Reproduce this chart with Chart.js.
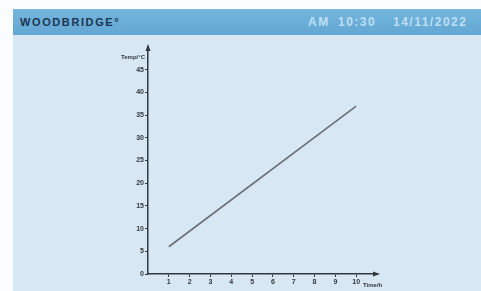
<!DOCTYPE html>
<html>
<head>
<meta charset="utf-8">
<script src="https://cdn.jsdelivr.net/npm/chart.js@4"></script>
<style>
  html, body { margin: 0; padding: 0; background: #fbfcfd; }
  #wrap { position: relative; width: 481px; height: 291px; overflow: hidden; }
  #panel { position: absolute; left: 13px; top: 35px; width: 468px; height: 256px; background: #d7e7f3; }
  #header { position: absolute; left: 13px; top: 9px; width: 468px; height: 26px;
    background: linear-gradient(#74b5dc, #62a7d3); }
  #brand { position: absolute; left: 7px; top: 7px; font: bold 11px "Liberation Sans", Arial, sans-serif;
    color: #1c3550; letter-spacing: 1.6px; }
  .stamp { position: absolute; top: 6px; font: bold 12px "Liberation Sans", Arial, sans-serif;
    color: #bfdff3; letter-spacing: 1.5px; }
  #chart { position: absolute; left: 0; top: 0; }
</style>
</head>
<body>
<div id="wrap">
  <div id="header">
    <div id="brand">WOODBRIDGE°</div>
    <div class="stamp" style="left:295px">AM</div>
    <div class="stamp" style="left:325px">10:30</div>
    <div class="stamp" style="left:380px">14/11/2022</div>
  </div>
  <div id="panel"></div>
  <canvas id="chart" width="481" height="291"></canvas>
</div>
<script>
// line: temperature vs time
const hours = [1, 10];
const temps = [6, 37];
const xTicks = [1, 2, 3, 4, 5, 6, 7, 8, 9, 10];
const yTicks = [0, 5, 10, 15, 20, 25, 30, 35, 40, 45];

const axisColor = "#33383e";
const tickFont = { family: "Liberation Sans", size: 7, weight: "bold" };

const arrowsAndTitles = {
  id: "arrowsAndTitles",
  afterDraw(chart) {
    const ctx = chart.ctx;
    const a = chart.chartArea;
    ctx.save();
    ctx.fillStyle = axisColor;
    // y arrow
    ctx.beginPath();
    ctx.moveTo(a.left, a.top - 3);
    ctx.lineTo(a.left - 2.5, a.top + 4);
    ctx.lineTo(a.left + 2.5, a.top + 4);
    ctx.fill();
    // x arrow
    ctx.beginPath();
    ctx.moveTo(a.right + 3, a.bottom);
    ctx.lineTo(a.right - 4, a.bottom - 2.5);
    ctx.lineTo(a.right - 4, a.bottom + 2.5);
    ctx.fill();
    ctx.font = "bold 6px 'Liberation Sans'";
    ctx.textAlign = "right";
    ctx.textBaseline = "middle";
    ctx.fillText("Temp/°C", a.left - 3, a.top + 10);
    ctx.textAlign = "left";
    ctx.fillText("Time/h", a.right - 14, a.bottom + 11);
    ctx.restore();
  }
};

new Chart(document.getElementById("chart"), {
  type: "scatter",
  data: {
    datasets: [{
      data: hours.map((h, i) => ({ x: h, y: temps[i] })),
      showLine: true,
      borderColor: "#6a7076",
      borderWidth: 1.6,
      pointRadius: 0
    }]
  },
  options: {
    responsive: false,
    animation: false,
    layout: { padding: { left: 0, top: 47, right: 104, bottom: 0 } },
    plugins: { legend: { display: false }, tooltip: { enabled: false } },
    scales: {
      x: {
        type: "linear",
        min: 0,
        max: 11,
        afterFit(s) { s.height = 17; },
        afterBuildTicks(s) { s.ticks = xTicks.map(v => ({ value: v })); },
        border: { color: axisColor, width: 1.5 },
        grid: { drawOnChartArea: false, color: axisColor, tickLength: 3 },
        ticks: { color: axisColor, font: tickFont, padding: 1, maxRotation: 0 }
      },
      y: {
        min: 0,
        max: 50,
        afterFit(s) { s.width = 148; },
        afterBuildTicks(s) { s.ticks = yTicks.map(v => ({ value: v })); },
        border: { color: axisColor, width: 1.5 },
        grid: { drawOnChartArea: false, color: axisColor, tickLength: 3 },
        ticks: { color: axisColor, font: tickFont, padding: 1 }
      }
    }
  },
  plugins: [arrowsAndTitles]
});
</script>
</body>
</html>
